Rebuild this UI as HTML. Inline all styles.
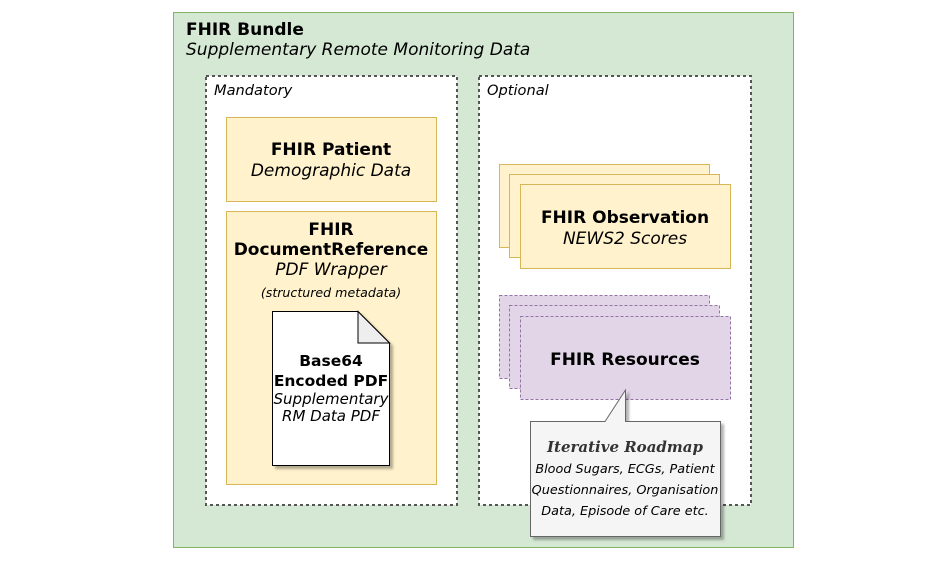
<!DOCTYPE html>
<html><head><meta charset="utf-8"><style>
html,body{margin:0;padding:0;background:#fff;width:948px;height:561px;overflow:hidden}
svg{display:block}
text{font-family:"DejaVu Sans","Liberation Sans",sans-serif;fill:#000}
.b{font-weight:bold;font-size:17px}
.i{font-style:italic;font-size:17px}
.db{font-weight:bold;font-size:15.5px}
.di{font-style:italic;font-size:15px}
.s{font-style:italic;font-size:12.8px}
</style></head><body>
<svg width="948" height="561" viewBox="0 0 948 561" xmlns="http://www.w3.org/2000/svg">
<defs>
<filter id="sh" x="-10%" y="-10%" width="130%" height="130%"><feDropShadow dx="3" dy="3" stdDeviation="1.2" flood-color="#000" flood-opacity="0.3"/></filter>
</defs>
<rect x="173.5" y="12.5" width="620" height="535" fill="#d5e8d4" stroke="#82b366"/>
<text x="186" y="35" class="b">FHIR Bundle</text>
<text x="186" y="55" class="i">Supplementary Remote Monitoring Data</text>

<rect x="206" y="76" width="251" height="429" fill="#fff" stroke="#555" stroke-width="2" stroke-dasharray="3,3"/>
<text x="214" y="95" class="s" style="font-size:14.6px">Mandatory</text>
<rect x="479" y="76" width="272" height="429" fill="#fff" stroke="#555" stroke-width="2" stroke-dasharray="3,3"/>
<text x="487" y="95" class="s" style="font-size:14.6px">Optional</text>

<rect x="226.5" y="117.5" width="210" height="84" fill="#fff2cc" stroke="#d6b656"/>
<text x="331" y="155" class="b" text-anchor="middle">FHIR Patient</text>
<text x="331" y="176" class="i" text-anchor="middle">Demographic Data</text>

<rect x="226.5" y="211.5" width="210" height="273" fill="#fff2cc" stroke="#d6b656"/>
<text x="331" y="235" class="b" text-anchor="middle">FHIR</text>
<text x="331" y="255" class="b" text-anchor="middle">DocumentReference</text>
<text x="331" y="275" class="i" text-anchor="middle">PDF Wrapper</text>
<text x="331" y="297" class="s" text-anchor="middle" style="font-size:12.6px">(structured metadata)</text>

<g filter="url(#sh)">
<path d="M272.5 311.5 H358 L389.5 343 V465.5 H272.5 Z" fill="#fff" stroke="#000"/>
</g>
<path d="M358 311.5 V343 H389.5 Z" fill="#eee" stroke="#000"/>
<text x="331" y="366" class="db" text-anchor="middle">Base64</text>
<text x="331" y="386" class="db" text-anchor="middle">Encoded PDF</text>
<text x="331" y="404" class="di" text-anchor="middle">Supplementary</text>
<text x="331" y="421" class="di" text-anchor="middle">RM Data PDF</text>

<rect x="499.5" y="164.5" width="210" height="83" fill="#fff2cc" stroke="#d6b656"/>
<rect x="509.5" y="174.5" width="210" height="83" fill="#fff2cc" stroke="#d6b656"/>
<rect x="520.5" y="184.5" width="210" height="84" fill="#fff2cc" stroke="#d6b656"/>
<text x="625" y="223" class="b" text-anchor="middle">FHIR Observation</text>
<text x="625" y="244" class="i" text-anchor="middle">NEWS2 Scores</text>

<rect x="499.5" y="295.5" width="210" height="83" fill="#e1d5e7" stroke="#9673a6" stroke-dasharray="3,2"/>
<rect x="509.5" y="305.5" width="210" height="83" fill="#e1d5e7" stroke="#9673a6" stroke-dasharray="3,2"/>
<rect x="520.5" y="316.5" width="210" height="83" fill="#e1d5e7" stroke="#9673a6" stroke-dasharray="3,2"/>
<text x="625" y="365" class="b" text-anchor="middle">FHIR Resources</text>

<g filter="url(#sh)">
<path d="M530.5 421.5 H605 L625.5 390 V421.5 H720.5 V536.5 H530.5 Z" fill="#f5f5f5" stroke="#666"/>
</g>
<text x="625" y="452" text-anchor="middle" style="font-family:'DejaVu Serif','Liberation Serif',serif;font-weight:bold;font-style:italic;font-size:15px;fill:#333">Iterative Roadmap</text>
<text x="625" y="473" class="s" text-anchor="middle">Blood Sugars, ECGs, Patient</text>
<text x="625" y="494" class="s" text-anchor="middle">Questionnaires, Organisation</text>
<text x="625" y="515" class="s" text-anchor="middle">Data, Episode of Care etc.</text>
</svg>
</body></html>
